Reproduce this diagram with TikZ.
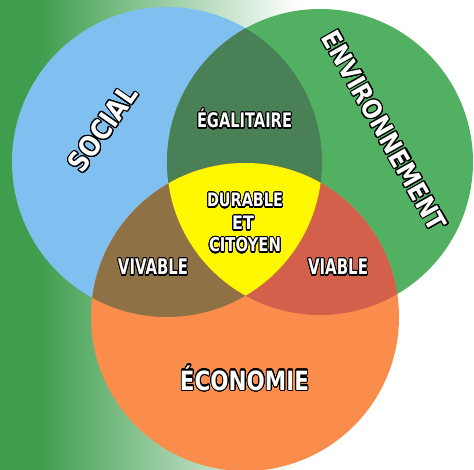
\documentclass[tikz,border=0pt]{standalone}
\usepackage{fontspec}
\setmainfont{DejaVu Sans}
\usepackage{graphicx}
\usepackage{contour}
\contourlength{1.1pt}
\contournumber{32}
\definecolor{bluec}{RGB}{128,192,240}
\definecolor{greenc}{RGB}{82,176,98}
\definecolor{dgreenc}{RGB}{74,128,86}
\definecolor{orangec}{RGB}{250,140,76}
\definecolor{brownc}{RGB}{142,114,70}
\definecolor{redc}{RGB}{210,96,74}
\definecolor{yellowc}{RGB}{255,248,0}
\definecolor{bggreen}{RGB}{62,158,78}
% outlined label: #1 font size, #2 target width (pt), #3 text
\newcommand{\olbl}[3]{{\fontsize{#1}{#1}\selectfont\bfseries
  \resizebox{#2pt}{\height}{\contour{black}{#3}}}}
\tikzset{lbl/.style={inner sep=0pt, text=white}}
\begin{document}
\begin{tikzpicture}[x=1pt,y=-1pt]
\useasboundingbox (0,0) rectangle (474,470);
% background
\fill[white] (0,0) rectangle (474,470);
\fill[bggreen] (0,0) rectangle (40,470);
\shade[left color=bggreen, right color=white] (39.5,0) rectangle (300,470);
% circles
\coordinate (cb) at (167,162);
\coordinate (cg) at (320,162);
\coordinate (co) at (245,317);
\fill[bluec] (cb) circle[radius=155];
\fill[greenc] (cg) circle[radius=153];
\begin{scope}
\clip (cb) circle[radius=155];
\fill[dgreenc] (cg) circle[radius=153];
\end{scope}
\fill[orangec] (co) circle[radius=154];
\begin{scope}
\clip (cb) circle[radius=155];
\fill[brownc] (co) circle[radius=154];
\end{scope}
\begin{scope}
\clip (cg) circle[radius=153];
\fill[redc] (co) circle[radius=154];
\end{scope}
\begin{scope}
\clip (cb) circle[radius=155];
\clip (cg) circle[radius=153];
\fill[yellowc] (co) circle[radius=154];
\end{scope}
% labels
\node[lbl, rotate=55] (social) at (103,129) {\olbl{28}{98}{SOCIAL}};
\node[lbl, rotate=-60.5] (env) at (384,131) {\olbl{26}{225}{ENVIRONNEMENT}};
\node[lbl, anchor=base] (ega) at (244.5,128) {\olbl{20}{95}{ÉGALITAIRE}};
\node[lbl, anchor=base] (dur) at (245,207) {\olbl{18.5}{76}{DURABLE}};
\node[lbl, anchor=base] (et) at (243,230) {\olbl{18.5}{22}{ET}};
\node[lbl, anchor=base] (cit) at (245,252) {\olbl{19}{72}{CITOYEN}};
\node[lbl, anchor=base] (viv) at (153,275) {\olbl{21.5}{70}{VIVABLE}};
\node[lbl, anchor=base] (via) at (338,275) {\olbl{21.5}{60}{VIABLE}};
\node[lbl, anchor=base] (eco) at (244.5,390) {\olbl{26.5}{129}{ÉCONOMIE}};
\end{tikzpicture}
\end{document}
